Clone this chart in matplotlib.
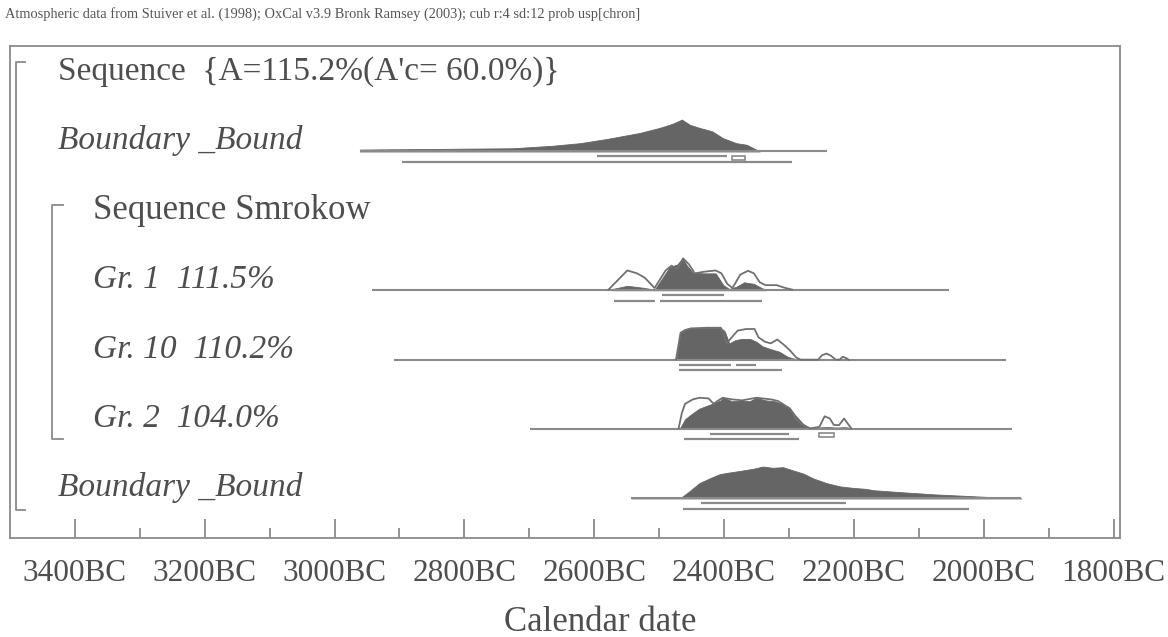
import numpy as np
import matplotlib.pyplot as plt
from matplotlib.patches import Rectangle

plt.rcParams['font.family'] = ['Liberation Serif', 'DejaVu Serif']

header = ('Atmospheric data from Stuiver et al. (1998); OxCal v3.9 Bronk Ramsey (2003); '
          'cub r:4 sd:12 prob usp[chron]')

# row labels (row 0 at the top)
labels = ["Sequence  {A=115.2%(A'c= 60.0%)}", 'Boundary _Bound', 'Sequence Smrokow',
          'Gr. 1  111.5%', 'Gr. 10  110.2%', 'Gr. 2  104.0%', 'Boundary _Bound']
label_italic = [False, True, False, True, True, True, True]
label_indent = [0, 0, 1, 1, 1, 1, 0]
label_size = [24, 24, 25, 24, 24, 24, 24]

tick_years = [3400, 3200, 3000, 2800, 2600, 2400, 2200, 2000, 1800]
minor_years = [3300, 3100, 2900, 2700, 2500, 2300, 2100, 1900]

# --- top boundary (row 1)
b1_span = (2961, 2242)
b1_yr = [2961, 2726, 2664, 2622, 2581, 2530, 2499, 2479, 2465, 2453, 2438, 2418, 2402, 2381, 2365, 2345]
b1_p = [6, 10, 18, 26, 39, 58, 74, 87, 100, 84, 74, 63, 42, 26, 21, 0]
b1_r68 = [(2596, 2396)]
b1_box = [(2388, 2368)]
b1_r95 = [(2896, 2296)]

# --- Gr. 1 (row 3)
g1_span = (2943, 2054)
g1_lik_yr = [2578, 2549, 2534, 2522, 2507, 2490, 2481, 2472, 2463, 2454, 2445, 2431, 2413, 2404,
             2395, 2387, 2375, 2363, 2354, 2345, 2336, 2319, 2307, 2295]
g1_lik_p = [2, 62, 53, 39, 7, 62, 77, 67, 100, 81, 53, 58, 62, 53, 20, 7, 49, 61, 53, 25, 16, 16, 8, 2]
g1_post_yr = [2572, 2549, 2525, 2507, 2496, 2484, 2472, 2464, 2457, 2448, 2431, 2413, 2401, 2392,
              2381, 2369, 2354, 2342, 2336]
g1_post_p = [4, 14, 8, 2, 35, 72, 81, 100, 77, 55, 53, 53, 16, 4, 11, 25, 20, 7, 2]
g1_r68 = [(2496, 2400)]
g1_box = []
g1_r95 = [(2570, 2507), (2499, 2342)]

# --- Gr. 10 (row 4)
g10_span = (2908, 1965)
g10_lik_yr = [2474, 2467, 2460, 2451, 2425, 2405, 2396, 2386, 2379, 2366, 2353, 2347, 2337, 2328,
              2318, 2308, 2298, 2289, 2282, 2255, 2249, 2242, 2235, 2228, 2222, 2217, 2212, 2208]
g10_lik_p = [0, 84, 93, 98, 100, 100, 51, 75, 91, 96, 96, 70, 56, 51, 63, 47, 28, 7, 0, 0, 14, 19, 12, 0,
             0, 9, 5, 0]
g10_post_yr = [2474, 2473, 2467, 2460, 2451, 2425, 2405, 2399, 2392, 2383, 2373, 2360, 2350, 2341,
               2328, 2315, 2302, 2292, 2288]
g10_post_p = [0, 5, 84, 93, 98, 100, 100, 89, 51, 61, 65, 65, 56, 42, 33, 25, 9, 3, 0]
g10_r68 = [(2470, 2389), (2381, 2350)]
g10_box = []
g10_r95 = [(2470, 2311)]

# --- Gr. 2 (row 5)
g2_span = (2699, 1956)
g2_lik_yr = [2470, 2465, 2460, 2448, 2438, 2424, 2416, 2410, 2402, 2388, 2372, 2350, 2328, 2317,
             2306, 2297, 2289, 2278, 2267, 2253, 2245, 2237, 2231, 2223, 2215, 2209, 2204]
g2_lik_p = [2, 50, 79, 93, 98, 96, 79, 88, 98, 93, 90, 98, 93, 88, 74, 60, 31, 12, 2, 7, 40, 33, 13,
            12, 33, 16, 2]
g2_post_yr = [2470, 2468, 2460, 2448, 2438, 2421, 2405, 2402, 2388, 2372, 2361, 2350, 2336, 2322,
              2311, 2300, 2289, 2278, 2267, 2262, 2253, 2245, 2237, 2231, 2223, 2215, 2209, 2203, 2201]
g2_post_p = [0, 2, 31, 50, 64, 77, 90, 100, 87, 90, 87, 98, 90, 87, 79, 69, 40, 16, 2, 4, 5, 6, 6, 5,
             5, 6, 5, 3, 0]
g2_r68 = [(2421, 2300)]
g2_box = [(2253, 2231)]
g2_r95 = [(2462, 2284)]

# --- bottom boundary (row 6)
b2_span = (2543, 1942)
b2_yr = [2543, 2466, 2453, 2438, 2422, 2407, 2396, 2376, 2355, 2340, 2325, 2309, 2294, 2278, 2263,
         2242, 2222, 2201, 2181, 2171, 2130, 2078, 2027, 1976, 1942]
b2_p = [3, 3, 23, 48, 63, 76, 80, 86, 93, 100, 96, 98, 88, 78, 63, 48, 38, 33, 30, 26, 20, 13, 8, 3, 0]
b2_r68 = [(2435, 2212)]
b2_box = []
b2_r95 = [(2463, 2022)]

rows = [
    (1, b1_span, b1_yr, b1_p, None, None, b1_r68, b1_box, b1_r95),
    (3, g1_span, g1_post_yr, g1_post_p, g1_lik_yr, g1_lik_p, g1_r68, g1_box, g1_r95),
    (4, g10_span, g10_post_yr, g10_post_p, g10_lik_yr, g10_lik_p, g10_r68, g10_box, g10_r95),
    (5, g2_span, g2_post_yr, g2_post_p, g2_lik_yr, g2_lik_p, g2_r68, g2_box, g2_r95),
    (6, b2_span, b2_yr, b2_p, None, None, b2_r68, b2_box, b2_r95),
]

W, H = 1168, 637
fig = plt.figure(figsize=(W / 100, H / 100), dpi=100)
ax = fig.add_axes([10 / W, 1 - 538 / H, 1110 / W, (538 - 46) / H])

grey = '#8a8a8a'
fillc = '#656565'
txtc = '#4e4e4e'
peak = 0.46

for row, span, pyr, pp, lyr, lp, r68, box, r95 in rows:
    ax.hlines(row, -span[0], -span[1], color=grey, lw=1.5)
    x = -np.array(pyr)
    ax.fill_between(x, row, row - peak * np.array(pp) / 100, color=fillc, lw=0.6, edgecolor=fillc)
    if lyr is not None:
        ax.plot(-np.array(lyr), row - peak * np.array(lp) / 100, color='#707070', lw=1.3)
    for a, b in r68:
        ax.hlines(row + 0.07, -a, -b, color=grey, lw=1.6)
    for a, b in r95:
        ax.hlines(row + 0.15, -a, -b, color=grey, lw=1.6)
    for a, b in box:
        ax.add_patch(Rectangle((-a, row + 0.06), a - b, 0.06, fill=False, ec=grey, lw=1.2))

# labels
ytr = ax.get_yaxis_transform()
for i, lab in enumerate(labels):
    xa = 0.043 if label_indent[i] == 0 else 0.0745
    ax.text(xa, i - 0.03, lab, transform=ytr, ha='left', va='baseline', fontsize=label_size[i],
            style='italic' if label_italic[i] else 'normal', color=txtc)

# sequence brackets
for xa, top, bot, hook in [(0.0054, -0.29, 6.17, 0.008), (0.0378, 1.77, 5.14, 0.01)]:
    ax.plot([xa + hook, xa, xa, xa + hook], [top, top, bot, bot], transform=ytr,
            color=grey, lw=1.3, clip_on=False)

ax.set_xlim(-3500, -1790)
ax.set_ylim(6.57, -0.52)
ax.set_xticks([-y for y in tick_years])
ax.set_xticklabels([f'{y}BC' for y in tick_years])
ax.set_xticks([-y for y in minor_years], minor=True)
ax.set_yticks([])
ax.tick_params(axis='x', which='major', direction='in', length=13.5, width=1.3, color=grey,
               pad=15, labelsize=22.5, labelcolor=txtc)
ax.tick_params(axis='x', which='minor', direction='in', length=7, width=1.3, color=grey)
for s in ax.spines.values():
    s.set_color(grey)
    s.set_linewidth(1.3)

ax.text(0.5315, -0.171, 'Calendar date', transform=ax.transAxes, ha='center', va='center',
        fontsize=25, color=txtc)
fig.text(5 / W, 1 - 14 / H, header, ha='left', va='center', fontsize=10.4, color='#555555')

fig.savefig('out.png', dpi=100)
